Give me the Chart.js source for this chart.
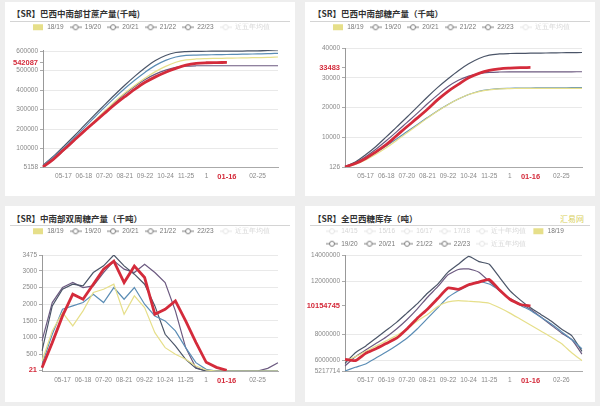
<!DOCTYPE html>
<html>
<head>
<meta charset="UTF-8">
<title>巴西中南部糖产数据</title>
<script src="https://cdn.jsdelivr.net/npm/chart.js"></script>
<style>
  body { margin:0; width:600px; height:406px; background:#eeeeee; position:relative; overflow:hidden; font-family:"Noto Sans CJK SC", sans-serif; }
  .panel { position:absolute; background:#fff; width:290px; }
  .title { position:absolute; font-size:8.5px; font-weight:bold; color:#333; white-space:nowrap; line-height:12px; }
  .rule { position:absolute; width:280px; height:1px; background:#d4d4d4; }
  .brand { position:absolute; font-size:8px; color:#d8cf5c; }
  canvas { position:absolute; }
</style>
</head>
<body>
  <div class="panel" style="left:5px;top:2px;height:194px"></div>
  <div class="panel" style="left:305px;top:2px;height:194px"></div>
  <div class="panel" style="left:5px;top:206px;height:196px"></div>
  <div class="panel" style="left:305px;top:206px;height:196px"></div>

  <div class="title" style="left:12px;top:7px">【SR】巴西中南部甘蔗产量(千吨)</div>
  <div class="rule" style="left:10px;top:21px"></div>
  <div class="title" style="left:313px;top:7px">【SR】巴西中南部糖产量（千吨）</div>
  <div class="rule" style="left:310px;top:21px"></div>
  <div class="title" style="left:12px;top:212px">【SR】中南部双周糖产量（千吨）</div>
  <div class="rule" style="left:10px;top:225px"></div>
  <div class="title" style="left:313px;top:212px">【SR】全巴西糖库存（吨）</div>
  <div class="rule" style="left:310px;top:225px"></div>
  <div class="brand" style="left:560px;top:213px">汇易网</div>

  <canvas id="c1" width="288" height="176" style="left:6px;top:18px"></canvas>
  <canvas id="c2" width="288" height="176" style="left:306px;top:18px"></canvas>
  <canvas id="c3" width="288" height="176" style="left:6px;top:222px"></canvas>
  <canvas id="c4" width="288" height="176" style="left:306px;top:222px"></canvas>

<script>
// half-month points of a season
const cats = ['04-16','05-01','05-16','06-01','06-16','07-01','07-16','08-01','08-16','09-01','09-16','10-01',
              '10-16','11-01','11-16','12-01','12-16','01-01','01-16','02-01','02-16','03-01','03-16','04-01'];
const tickLabels  = ['','','05-17','','06-18','','07-20','','08-21','','09-22','','10-24','','11-25','','1','','01-16','','','02-25','',''];
const tickLabels4 = ['','','05-17','','06-19','','07-20','','08-21','','09-22','','10-24','','11-25','','1','','01-16','','','02-26','',''];

const seasons = ['18/19','19/20','20/21','21/22','22/23'];
const faded = ['近五年均值'];
const faded4 = ['14/15','15/16','16/17','17/18','近十年均值'];

// 甘蔗产量 (千吨)
const cane1819 = [8000,45000,90000,140000,190000,240000,290000,340000,385000,425000,462000,495000,522000,543000,555000,560000,562000,563000,564000,565000,566000,567000,568000,570000];
const cane1920 = [12000,55000,102000,152000,205000,258000,310000,360000,408000,452000,492000,527000,553000,570000,578000,580000,581000,582000,583000,584000,585000,586000,587000,589000];
const cane2021 = [15000,60000,110000,162000,216000,270000,323000,375000,425000,472000,515000,552000,578000,593000,598000,599000,599500,600000,600000,600500,601000,602000,604000,606000];
const cane2122 = [6000,42000,88000,138000,188000,238000,288000,335000,380000,420000,455000,482000,503000,517000,523000,525000,525000,525000,525000,525000,525000,525000,525000,525000];
const cane2223 = [5158,44000,92000,140000,188000,234000,280000,325000,366000,405000,440000,468000,492000,512000,528000,537000,540500,541600,542087];

// 糖产量 (千吨)
const sugar1819 = [150,1000,2500,4400,6600,9000,11500,14000,16500,18900,21000,22900,24400,25400,26000,26300,26400,26450,26460,26470,26480,26490,26500,26500];
const sugar1920 = [250,1300,3000,5000,7200,9500,11900,14300,16700,19000,21100,22900,24400,25500,26100,26400,26500,26550,26600,26620,26640,26660,26700,26750];
const sugar2021 = [300,1800,4200,7000,10200,13500,16800,20200,23600,26800,29700,32400,34700,36500,37600,38000,38150,38200,38250,38300,38350,38400,38450,38500];
const sugar2122 = [200,1500,3600,6100,8900,11900,15000,18100,21300,24300,27100,29200,30600,31400,31800,31950,32000,32000,32000,32000,32000,32020,32030,32050];
const sugar2223 = [126,1300,3000,5200,7600,10600,13600,16500,19500,22700,25500,27800,30000,31500,32500,33000,33250,33400,33483];

// 双周糖产量 (千吨)
const bi1819 = [300,1200,1750,1350,1800,2350,2450,2600,1700,2250,1900,1150,700,500,350,150,30,0,0,0,0,0,0,0];
const bi1920 = [200,1100,1850,1950,2050,2300,2050,2500,2150,2500,2000,1650,1500,1200,700,250,50,0,0,0,0,0,0,0];
const bi2021 = [600,1950,2450,2600,2550,2950,3150,3475,3150,2900,2600,1950,1100,750,350,80,0,0,0,0,0,0,0,0];
const bi2122 = [900,2050,2500,2650,2500,2550,2950,3300,3050,2950,3200,2950,2650,1800,700,100,0,0,0,0,0,0,80,250];
const bi2223 = [100,850,1650,2300,2150,2600,3050,3290,2650,3140,2800,1700,1850,2100,1500,860,260,110,21];

// 库存 (吨)
const stock1819 = [6000000,6300000,6700000,7100000,7500000,7900000,8400000,9000000,9500000,10100000,10450000,10550000,10500000,10450000,10350000,10000000,9600000,9150000,8700000,8250000,7800000,7300000,6600000,6000000];
const stock1920 = [5217714,5500000,5750000,6200000,6650000,7150000,7700000,8400000,9200000,10000000,10800000,11300000,11700000,12000000,11800000,11300000,10700000,10200000,9800000,9300000,8800000,8200000,7600000,6900000];
const stock2021 = [5800000,6600000,7100000,7700000,8300000,8900000,9600000,10300000,11100000,11800000,12700000,13300000,13900000,13500000,13300000,12300000,11300000,10600000,10000000,9500000,9000000,8400000,7900000,6700000];
const stock2122 = [5600000,6300000,6800000,7300000,7800000,8400000,9100000,9900000,10800000,11600000,12500000,12900000,12950000,12700000,12000000,11300000,10700000,10300000,9900000,9300000,8700000,8100000,7600000,6500000];
const stock2223 = [6100000,6000000,6550000,6900000,7300000,7700000,8400000,9200000,9900000,10700000,11500000,11400000,11750000,11950000,12150000,11350000,10650000,10250000,10154745];

const colors = ['#e6df8a','#5b8db5','#4b5568','#6c5a80','#d42b3b'];
const RED = '#d42b3b';

Chart.defaults.font.family = '"Liberation Sans", Arial, sans-serif';
Chart.defaults.animation = false;

function marker(color, box) {
  const c = document.createElement('canvas');
  c.width = 12; c.height = 8;
  const g = c.getContext('2d');
  if (box) { g.fillStyle = color; g.fillRect(1, 1, 10, 6); return c; }
  g.strokeStyle = color; g.lineWidth = 1;
  g.beginPath(); g.moveTo(0, 4); g.lineTo(12, 4); g.stroke();
  g.beginPath(); g.arc(6, 4, 2.5, 0, Math.PI * 2); g.fillStyle = '#fff'; g.fill(); g.stroke();
  return c;
}

// legend: fixed height so the plot starts lower, and shifted right
const legendSpace = {
  id: 'legendSpace',
  beforeInit(chart, args, opts) {
    const fit = chart.legend.fit;
    chart.legend.fit = function () { fit.call(this); this.height = opts.height; };
  },
  afterLayout(chart, args, opts) {
    chart.legend.left += opts.shift;
    chart.legend.right += opts.shift;
  }
};

function build(id, o) {
  const now = o.series[4];
  const cur = now[now.length - 1];
  const all = o.series.flat();
  const min = o.min !== undefined ? o.min : Math.min(...all);
  const max = o.max !== undefined ? o.max : Math.max(...all);
  const span = max - min;
  let vals = [];
  for (let v = Math.ceil(min / o.step) * o.step; v <= max; v += o.step) vals.push(v);
  if (!vals.some(v => Math.abs(v - min) < span * 0.05)) vals.unshift(min);
  if (!vals.some(v => Math.abs(v - max) < span * 0.05)) vals.push(max);
  vals = vals.filter(v => Math.abs(v - cur) > span * 0.05);
  vals.push(cur);
  vals.sort((a, b) => a - b);

  const legendItems = (o.before || []).map(t => ({ text: t, pointStyle: marker('#e4e4e4'), fontColor: '#d6d6d6', lineWidth: 0 }))
    .concat(seasons.map((t, i) => ({ text: t, pointStyle: marker(i === 0 ? colors[0] : '#7c7c7c', i === 0), fontColor: '#777', lineWidth: 0 })))
    .concat(faded.map(t => ({ text: t, pointStyle: marker('#e4e4e4'), fontColor: '#d6d6d6', lineWidth: 0 })));

  const nowLabel = '01-16';
  new Chart(document.getElementById(id), {
    type: 'line',
    data: {
      labels: cats,
      datasets: o.series.map((d, i) => ({
        label: seasons[i],
        data: d,
        borderColor: colors[i],
        borderWidth: i === 4 ? 2.8 : 1.2,
        pointRadius: 0,
        tension: o.tension,
        order: i === 4 ? 0 : 1
      }))
    },
    options: {
      responsive: false,
      layout: { padding: { left: 0, right: o.padR, top: 0, bottom: 14 } },
      plugins: {
        legendSpace: { height: o.top, shift: o.shift },
        tooltip: { enabled: false },
        legend: {
          position: 'top', align: 'start',
          onClick: () => {},
          labels: {
            usePointStyle: true, pointStyleWidth: 12, boxHeight: 7, padding: 6,
            font: { size: 6.5 }, color: '#777',
            generateLabels: () => legendItems
          }
        }
      },
      scales: {
        x: {
          grid: { display: false, tickLength: 2 },
          border: { color: '#aaa' },
          afterFit: s => { s.height = 13; },
          ticks: {
            autoSkip: false, maxRotation: 0, padding: 3,
            callback: (v, i) => o.ticks[i],
            color: c => o.ticks[c.index] === nowLabel ? RED : '#888',
            font: c => o.ticks[c.index] === nowLabel ? { size: 7.5, weight: 'bold' } : { size: 6.5 }
          }
        },
        y: {
          min: min, max: max,
          afterBuildTicks: s => { s.ticks = vals.map(v => ({ value: v })); },
          afterFit: s => { s.width = o.yW; },
          border: { color: '#999' },
          grid: {
            color: c => c.tick && c.tick.value === cur ? 'rgba(0,0,0,0)' : '#e9e9e9',
            tickColor: '#aaa', tickLength: 3
          },
          ticks: {
            autoSkip: false, padding: 2,
            callback: v => String(v),
            color: c => c.tick && c.tick.value === cur ? RED : '#888',
            font: c => c.tick && c.tick.value === cur ? { size: 7.5, weight: 'bold' } : { size: 6.5 }
          }
        }
      }
    },
    plugins: [legendSpace]
  });
}

build('c1', { series: [cane1819, cane1920, cane2021, cane2122, cane2223], step: 100000, tension: 0.35,
  ticks: tickLabels, padR: 16, yW: 37, top: 32, shift: 20 });
build('c2', { series: [sugar1819, sugar1920, sugar2021, sugar2122, sugar2223], step: 10000, max: 40000, tension: 0.35,
  ticks: tickLabels, padR: 12, yW: 39, top: 30, shift: 20 });
build('c3', { series: [bi1819, bi1920, bi2021, bi2122, bi2223], step: 500, min: 0, tension: 0,
  ticks: tickLabels, padR: 16, yW: 36, top: 33, shift: 20 });
build('c4', { series: [stock1819, stock1920, stock2021, stock2122, stock2223], step: 2000000, max: 14000000, tension: 0.15,
  ticks: tickLabels4, padR: 12, yW: 39, top: 33, shift: 14, before: faded4 });
</script>
</body>
</html>
